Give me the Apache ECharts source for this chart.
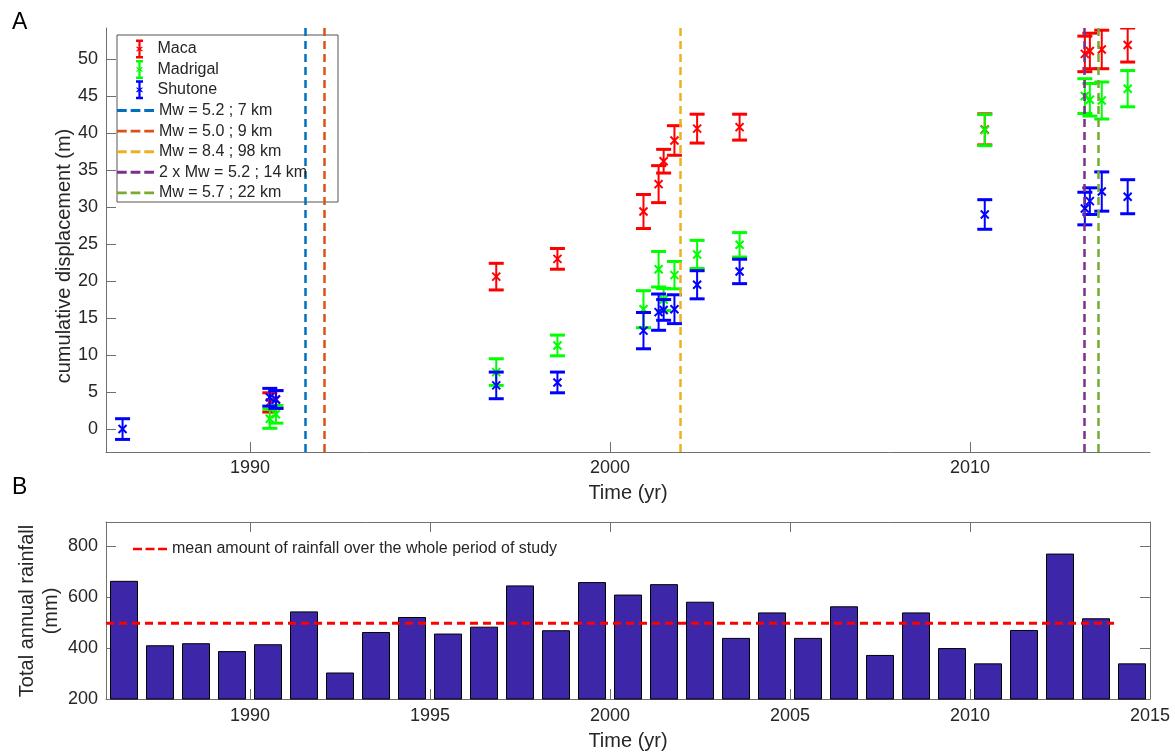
<!DOCTYPE html>
<html><head><meta charset="utf-8">
<script src="https://cdn.jsdelivr.net/npm/echarts@6/dist/echarts.min.js"></script>
<style>html,body{margin:0;padding:0;background:#fff}#c{width:1175px;height:754px}</style>
</head><body><div id="c"></div>
<script>
// ---------- DATA ----------
const macaTime  = [1990.55, 1990.72, 1996.84, 1998.54, 2000.93, 2001.35, 2001.49, 2001.79, 2002.42, 2003.60, 2010.41, 2013.19, 2013.33, 2013.66, 2014.38];
const macaDisp  = [3.6, 4.0, 20.6, 23.0, 29.4, 33.1, 36.2, 39.0, 40.6, 40.8, 40.5, 50.7, 51.1, 51.3, 51.9];
const macaErr   = [1.3, 1.2, 1.8, 1.4, 2.3, 2.5, 1.6, 2.0, 1.95, 1.75, 2.1, 2.4, 2.4, 2.6, 2.3];

const madTime   = [1990.55, 1990.72, 1996.84, 1998.54, 2000.93, 2001.35, 2001.49, 2001.79, 2002.42, 2003.60, 2010.41, 2013.19, 2013.33, 2013.66, 2014.38];
const madDisp   = [1.4, 2.0, 7.7, 11.3, 16.2, 21.6, 17.5, 20.8, 23.6, 24.9, 40.4, 45.0, 44.5, 44.4, 46.0];
const madErr    = [1.3, 1.2, 1.8, 1.4, 2.5, 2.4, 1.5, 1.85, 1.9, 1.65, 2.1, 2.35, 2.2, 2.5, 2.45];

const shuTime   = [1986.46, 1990.55, 1990.72, 1996.84, 1998.54, 2000.93, 2001.35, 2001.49, 2001.79, 2002.42, 2003.60, 2010.41, 2013.19, 2013.33, 2013.66, 2014.38];
const shuDisp   = [0.0, 4.3, 4.0, 5.9, 6.3, 13.3, 15.8, 16.1, 16.2, 19.5, 21.3, 29.0, 29.8, 30.8, 32.1, 31.4];
const shuErr    = [1.4, 1.2, 1.2, 1.8, 1.4, 2.45, 2.45, 1.4, 1.95, 1.9, 1.65, 2.0, 2.2, 1.8, 2.65, 2.3];

const quakeNames = ['Mw = 5.2 ; 7 km', 'Mw = 5.0 ; 9 km', 'Mw = 8.4 ; 98 km', '2 x Mw = 5.2 ; 14 km', 'Mw = 5.7 ; 22 km'];
const quakeTimes = [1991.54, 1992.07, 2001.95, 2013.16, 2013.55];

const rainYears  = [1986,1987,1988,1989,1990,1991,1992,1993,1994,1995,1996,1997,1998,1999,2000,2001,2002,2003,2004,2005,2006,2007,2008,2009,2010,2011,2012,2013,2014];
const rainValues = [664,411,419,388,415,544,304,463,522,457,484,646,470,659,610,651,582,440,540,440,564,373,540,400,340,471,771,517,340];

const topXTicks    = [1990, 2000, 2010];
const topYTicks    = [0, 5, 10, 15, 20, 25, 30, 35, 40, 45, 50];
const bottomXTicks = [1990, 1995, 2000, 2005, 2010, 2015];
const bottomYTicks = [200, 400, 600, 800];

// ---------- STYLE ----------
const FONT = "'Liberation Sans', Arial, sans-serif";
const TXT = '#262626';
const AX = '#707070';
const siteColors = ['#FF0000', '#00FF00', '#0000FF'];
const quakeColors = ['#0072BD', '#D95319', '#EDB120', '#7E2F8E', '#77AC30'];
const rainMean = rainValues.reduce((a, b) => a + b, 0) / rainValues.length;
const ERR_ICON = 'path://M0,0h7v2.5h-2.4v5.6l1.6,-1.2l0.6,0.8l-1.9,1.8l1.9,1.8l-0.6,0.8l-1.6,-1.2v5.6h2.4v2.5h-7v-2.5h2.4v-5.6l-1.6,1.2l-0.6,-0.8l1.9,-1.8l-1.9,-1.8l0.6,-0.8l1.6,1.2v-5.6h-2.4z';
const DASH_ICON = 'path://M0,0h10v3h-10z M14,0h10v3h-10z M28,0h10v3h-10z';

function zip3(a, b, c) { return a.map((v, i) => [v, b[i], c[i]]); }

function errorBarRenderer(color) {
  return function (params, api) {
    const x = api.value(0), v = api.value(1), e = api.value(2);
    const p = api.coord([x, v]), hi = api.coord([x, v + e]), lo = api.coord([x, v - e]);
    const cap = 7.5, mk = 4;
    const thin = { stroke: color, lineWidth: 2 };
    const thick = { stroke: color, lineWidth: 3 };
    return { type: 'group', children: [
      { type: 'line', shape: { x1: hi[0], y1: hi[1], x2: lo[0], y2: lo[1] }, style: thin },
      { type: 'line', shape: { x1: hi[0] - cap, y1: hi[1], x2: hi[0] + cap, y2: hi[1] }, style: thick },
      { type: 'line', shape: { x1: lo[0] - cap, y1: lo[1], x2: lo[0] + cap, y2: lo[1] }, style: thick },
      { type: 'line', shape: { x1: p[0] - mk, y1: p[1] - mk, x2: p[0] + mk, y2: p[1] + mk }, style: thin },
      { type: 'line', shape: { x1: p[0] - mk, y1: p[1] + mk, x2: p[0] + mk, y2: p[1] - mk }, style: thin }
    ]};
  };
}

const errSets = [
  ['Maca', zip3(macaTime, macaDisp, macaErr)],
  ['Madrigal', zip3(madTime, madDisp, madErr)],
  ['Shutone', zip3(shuTime, shuDisp, shuErr)]
];

const series = [];
errSets.forEach(([name, data], i) => {
  series.push({
    name, type: 'custom', xAxisIndex: 0, yAxisIndex: 0, clip: true,
    itemStyle: { color: siteColors[i] },
    encode: { x: 0, y: 1 },
    renderItem: errorBarRenderer(siteColors[i]),
    data
  });
});
quakeNames.forEach((name, i) => {
  series.push({
    name, type: 'line', xAxisIndex: 0, yAxisIndex: 0, symbol: 'none', data: [],
    itemStyle: { color: quakeColors[i] },
    lineStyle: { color: quakeColors[i], width: 2.5, type: [8, 5] },
    markLine: {
      silent: true, symbol: ['none', 'none'], label: { show: false },
      lineStyle: { color: quakeColors[i], width: 2.5, type: [8, 5] },
      data: [{ xAxis: quakeTimes[i] }]
    },
    z: 3
  });
});
series.push({
  name: 'rain', type: 'bar', xAxisIndex: 1, yAxisIndex: 1, barWidth: 28,
  itemStyle: { color: '#3E26A8', borderColor: '#000', borderWidth: 1 },
  data: rainYears.map((y, i) => [y + 0.5, rainValues[i]])
});
series.push({
  name: 'mean amount of rainfall over the whole period of study', type: 'line',
  xAxisIndex: 1, yAxisIndex: 1, symbol: 'none',
  itemStyle: { color: '#FF0000' },
  lineStyle: { color: '#FF0000', width: 3, type: [8, 5] },
  data: [[rainYears[0], rainMean], [rainYears[rainYears.length - 1], rainMean]],
  z: 3
});

const fmt = v => String(v);
const tickLabel = { color: TXT, fontSize: 18, fontFamily: FONT, formatter: fmt };
const nameStyle = { color: TXT, fontSize: 20, fontFamily: FONT };
const axLine = { show: true, onZero: false, lineStyle: { color: AX } };

const option = {
  animation: false,
  backgroundColor: '#fff',
  grid: [
    { left: 106, right: 25, top: 28, height: 424 },
    { left: 106, right: 25, top: 522, height: 177 }
  ],
  xAxis: [
    { gridIndex: 0, type: 'value', min: 1986, max: 2015,
      axisLine: axLine,
      axisTick: { show: true, inside: true, length: 10, customValues: topXTicks, lineStyle: { color: AX } },
      axisLabel: { customValues: topXTicks, margin: 7, ...tickLabel },
      splitLine: { show: false },
      name: 'Time (yr)', nameLocation: 'middle', nameGap: 31, nameTextStyle: nameStyle },
    { gridIndex: 1, type: 'value', min: 1986, max: 2015,
      axisLine: axLine,
      axisTick: { show: true, inside: true, length: 10, customValues: bottomXTicks, lineStyle: { color: AX } },
      axisLabel: { customValues: bottomXTicks, margin: 8, ...tickLabel },
      splitLine: { show: false },
      name: 'Time (yr)', nameLocation: 'middle', nameGap: 32, nameTextStyle: nameStyle },
    { gridIndex: 1, type: 'value', position: 'top', min: 1986, max: 2015,
      axisLine: axLine,
      axisTick: { show: true, inside: true, length: 10, customValues: bottomXTicks, lineStyle: { color: AX } },
      axisLabel: { show: false }, splitLine: { show: false } }
  ],
  yAxis: [
    { gridIndex: 0, type: 'value', min: -3.1, max: 54.2,
      axisLine: axLine,
      axisTick: { show: true, inside: true, length: 10, customValues: topYTicks, lineStyle: { color: AX } },
      axisLabel: { customValues: topYTicks, margin: 8, ...tickLabel },
      splitLine: { show: false } },
    { gridIndex: 1, type: 'value', min: 200, max: 895,
      axisLine: axLine,
      axisTick: { show: true, inside: true, length: 10, customValues: bottomYTicks, lineStyle: { color: AX } },
      axisLabel: { customValues: bottomYTicks, margin: 8, ...tickLabel },
      splitLine: { show: false } },
    { gridIndex: 1, type: 'value', position: 'right', min: 200, max: 895,
      axisLine: axLine,
      axisTick: { show: true, inside: true, length: 10, customValues: bottomYTicks, lineStyle: { color: AX } },
      axisLabel: { show: false }, splitLine: { show: false } }
  ],
  legend: [
    { orient: 'vertical', left: 136, top: 39.5, itemWidth: 26, itemHeight: 19, itemGap: 1.4, padding: 0,
      selectedMode: false,
      icon: ERR_ICON,
      data: ['Maca', 'Madrigal', 'Shutone'],
      textStyle: { color: TXT, fontSize: 16, fontFamily: FONT }, z: 6 },
    { orient: 'vertical', left: 117, top: 102.5, itemWidth: 37, itemHeight: 3, itemGap: 4.6, padding: 0,
      selectedMode: false,
      icon: DASH_ICON,
      data: quakeNames,
      textStyle: { color: TXT, fontSize: 16, fontFamily: FONT }, z: 6 },
    { orient: 'horizontal', left: 133, top: 541, itemWidth: 34, itemHeight: 3, padding: 0,
      selectedMode: false,
      icon: DASH_ICON,
      data: ['mean amount of rainfall over the whole period of study'],
      textStyle: { color: TXT, fontSize: 16, fontFamily: FONT }, z: 6 }
  ],
  graphic: [
    { type: 'rect', z: 5, shape: { x: 117, y: 35, width: 221, height: 167 },
      style: { fill: '#fff', stroke: '#555', lineWidth: 1 } },
    { type: 'text', x: 12, y: 11, style: { text: 'A', fontSize: 23, fontFamily: FONT, fill: '#000' } },
    { type: 'text', x: 12, y: 476, style: { text: 'B', fontSize: 23, fontFamily: FONT, fill: '#000' } },
    { type: 'text', x: 64, y: 256, rotation: Math.PI / 2,
      style: { text: 'cumulative displacement (m)', fontSize: 20, fontFamily: FONT, fill: TXT, align: 'center', verticalAlign: 'middle' } },
    { type: 'text', x: 39, y: 611, rotation: Math.PI / 2,
      style: { text: 'Total annual rainfall\n(mm)', fontSize: 20, lineHeight: 24, fontFamily: FONT, fill: TXT, align: 'center', verticalAlign: 'middle' } }
  ],
  series
};

const chart = echarts.init(document.getElementById('c'), null, { renderer: 'canvas' });
chart.setOption(option);
</script></body></html>
